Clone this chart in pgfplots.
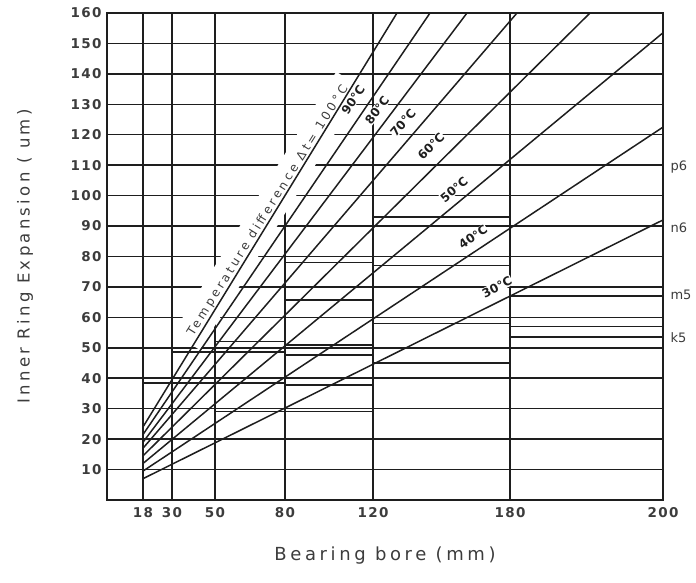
\documentclass[border=0pt]{standalone}
\usepackage{pgfplots}
\pgfplotsset{compat=1.18}
\usepackage{fontspec}
\setmainfont{DejaVu Sans}
\newfontfamily\tickfont[LetterSpace=10]{DejaVu Sans}
\newfontfamily\labfont[LetterSpace=20]{DejaVu Sans}
\newfontfamily\tempfont[LetterSpace=26]{DejaVu Sans}
\definecolor{ink}{HTML}{1E1E1E}
\definecolor{txt}{HTML}{3C3C3C}
\begin{document}
\begin{tikzpicture}
\begin{axis}[
  name=a,
  scale only axis,
  width=556pt, height=487pt,
  xmin=0, xmax=556, ymin=0, ymax=160,
  xtick={36,65,108,178,266,403,556},
  xticklabels={18,30,50,80,120,180,200},
  ytick={10,20,30,40,50,60,70,80,90,100,110,120,130,140,150,160},
  /pgf/number format/assume math mode=true,
  tick label style={font=\tickfont\bfseries\fontsize{13.5}{15}\selectfont, text=txt},
  major tick length=0pt,
  xticklabel style={yshift=-4pt},
  yticklabel style={xshift=-2pt},
  grid=major,
  major grid style={line width=1.5pt, ink},
  axis line style={line width=1.6pt, ink},
  clip=false,
  gl/.style={ink, line width=1.5pt, mark=none, solid},
]
% tolerance band step lines (value in um, x as chart position)
\addplot[gl] coordinates {(36,38.4) (178,38.4)};
\addplot[gl] coordinates {(65,48.6) (178,48.6)};
\addplot[gl] coordinates {(108,29) (266,29)};
\addplot[gl] coordinates {(108,52) (178,52)};
\addplot[gl] coordinates {(178,51) (266,51)};
\addplot[gl] coordinates {(178,47.6) (266,47.6)};
\addplot[gl] coordinates {(178,37.8) (266,37.8)};
\addplot[gl] coordinates {(178,65.7) (266,65.7)};
\addplot[gl] coordinates {(178,78) (266,78)};
\addplot[gl] coordinates {(266,93) (403,93)};
\addplot[gl] coordinates {(266,77) (403,77)};
\addplot[gl] coordinates {(266,58) (403,58)};
\addplot[gl] coordinates {(266,45) (403,45)};
\addplot[gl] coordinates {(403,67) (556,67)};
\addplot[gl] coordinates {(403,57) (556,57)};
\addplot[gl, line width=2.4pt] coordinates {(403,53.5) (556,53.5)};
\addplot[gl, line width=2.4pt] coordinates {(403,110) (556,110)};
\addplot[gl, line width=2pt] coordinates {(403,90) (556,90)};
% label of the 100 C line (white box breaks the grid)
\node[fill=white, inner xsep=8pt, inner ysep=10pt, rotate=58, font=\tempfont\fontsize{12}{13}\selectfont, text=txt]
  at (axis cs:161,95) {Temperature difference Δt= 100°C};
% temperature difference lines
\addplot[gl] coordinates {(36,7) (556,92)};
\addplot[gl] coordinates {(36,9.5) (556,122.5)};
\addplot[gl] coordinates {(36,12) (556,153.5)};
\addplot[gl] coordinates {(36,14.5) (483,160)};
\addplot[gl] coordinates {(36,17) (410,160)};
\addplot[gl] coordinates {(36,19) (360,160)};
\addplot[gl] coordinates {(36,21.5) (323,160)};
\addplot[gl] coordinates {(36,24) (290,160)};
% temperature labels
\tikzset{tl/.style={fill=white, inner sep=0.6pt, font=\bfseries\fontsize{12}{13}\selectfont, text=ink}}
\node[tl, rotate=56] at (axis cs:246,131.4) {90°C};
\node[tl, rotate=53] at (axis cs:270,128) {80°C};
\node[tl, rotate=49] at (axis cs:296,124) {70°C};
\node[tl, rotate=45] at (axis cs:324,116.3) {60°C};
\node[tl, rotate=40] at (axis cs:347,102) {50°C};
\node[tl, rotate=34] at (axis cs:366,86.4) {40°C};
\node[tl, rotate=27] at (axis cs:390,70) {30°C};
% fit labels
\tikzset{fl/.style={anchor=west, font=\fontsize{13}{14}\selectfont, text=txt}}
\node[fl] at (axis cs:560,109.5) {p6};
\node[fl] at (axis cs:560,89.6) {n6};
\node[fl] at (axis cs:560,67.5) {m5};
\node[fl] at (axis cs:560,53.5) {k5};
% axis titles
\node[rotate=90, font=\labfont\fontsize{16.5}{18}\selectfont, text=txt]
  at (axis cs:-82,80) {Inner Ring Expansion ( um)};
\node[font=\labfont\fontsize{18}{19}\selectfont, text=txt]
  at (axis cs:278,-18.4) {Bearing bore (mm)};
\end{axis}
\pgfresetboundingbox
\useasboundingbox ([xshift=-107pt, yshift=-83pt]a.south west) rectangle ([xshift=589pt, yshift=500pt]a.south west);
\end{tikzpicture}
\end{document}
